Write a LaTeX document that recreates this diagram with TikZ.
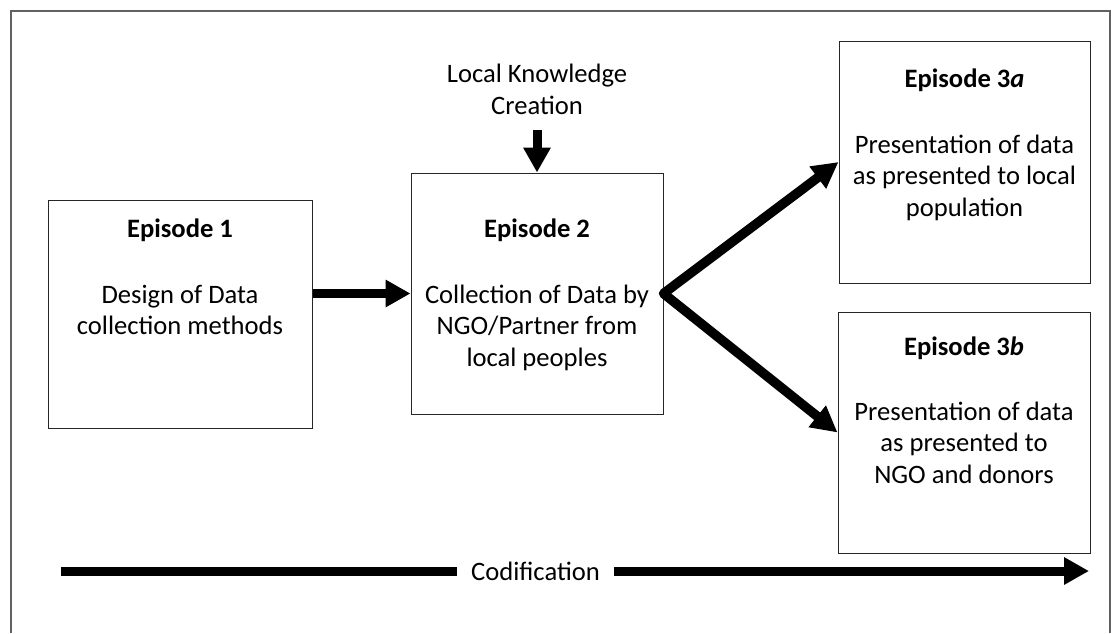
\documentclass[tikz,border=0pt]{standalone}
\usepackage{fontspec}
\setmainfont{Carlito}
\usetikzlibrary{arrows.meta}

\tikzset{
  txt/.style={font=\fontsize{26.6}{31.5}\selectfont, inner sep=0pt, align=center, text=black},
  episode/.style={draw=black!85, line width=1pt, inner sep=0pt},
  bigarrow/.style={line width=9pt, -{Triangle[length=25pt,width=26pt]}},
  frameline/.style={draw=black!62, line width=2pt},
}

\begin{document}
\begin{tikzpicture}[x=1pt,y=-1pt]
  \useasboundingbox (0,0) rectangle (1111,633);

  % outer frame, open at the bottom
  \draw[frameline] (11,633) -- (11,11) -- (1110,11) -- (1110,633);

  % episode boxes
  \node[episode, minimum width=264pt, minimum height=228pt] (ep1)  at (180,314)   {};
  \node[episode, minimum width=252pt, minimum height=241pt] (ep2)  at (537,293.5) {};
  \node[episode, minimum width=251pt, minimum height=242pt] (ep3a) at (964.5,162) {};
  \node[episode, minimum width=252pt, minimum height=241pt] (ep3b) at (964,432.5) {};

  % titles and descriptions (base anchor = baseline of the last line)
  \node[txt, anchor=base] (t1)  at (180,237)   {\bfseries Episode 1};
  \node[txt, anchor=base] (d1)  at (180,334.5) {Design of Data\\collection methods};
  \node[txt, anchor=base] (t2)  at (537,237)   {\bfseries Episode 2};
  \node[txt, anchor=base] (d2)  at (537,366)   {Collection of Data by\\NGO/Partner from\\local peoples};
  \node[txt, anchor=base] (t3a) at (964.5,87)  {\bfseries Episode 3\textit{a}};
  \node[txt, anchor=base] (d3a) at (964.5,216) {Presentation of data\\as presented to local\\population};
  \node[txt, anchor=base] (t3b) at (964,355)   {\bfseries Episode 3\textit{b}};
  \node[txt, anchor=base] (d3b) at (964,483)   {Presentation of data\\as presented to\\NGO and donors};

  % input from above
  \node[txt, anchor=base] (lkc) at (537,114) {Local Knowledge\\Creation};

  % codification label on the bottom arrow
  \node[txt, inner xsep=14pt, anchor=base] (cod) at (535.5,580) {Codification};
  \coordinate (codstart) at (61,571);
  \coordinate (codend)   at (1089,571);

  % connectors
  \draw[bigarrow] (ep1.east |- ep2.west) -- (ep2.west);
  \draw[line width=9.5pt, line join=round, {Triangle[length=26pt,width=26pt]}-{Triangle[length=26pt,width=26pt]}]
    (ep3a.west) -- (ep2.east) -- (ep3b.west);
  \draw[bigarrow] (lkc.south |- 0,130) -- (ep2.north);
  \draw[line width=9pt] (codstart) -- (cod.west |- codstart);
  \draw[bigarrow] (cod.east |- codend) -- (codend);
\end{tikzpicture}
\end{document}
